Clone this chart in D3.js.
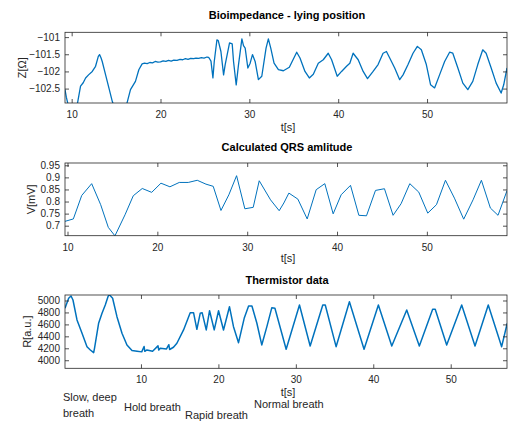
<!DOCTYPE html>
<html>
<head>
<meta charset="utf-8">
<script src="https://cdn.jsdelivr.net/npm/d3@7"></script>
<style>
  body { margin: 0; background: #fff; }
  svg { display: block; font-family: "Liberation Sans", Arial, sans-serif; }
</style>
</head>
<body>
<div id="chart"></div>
<script>
// bioimpedance, lying position
var bioT = [9.25, 9.4, 9.58, 10.1, 10.64, 11.0, 11.3, 11.57, 11.9, 12.32, 12.69, 13.0, 13.14, 13.3, 13.44, 13.82, 14.19, 14.57, 15.0, 15.8,
    16.25, 16.62, 17.18, 17.56, 17.93, 18.2, 18.5, 18.8, 19.1, 19.4, 19.7, 20.0, 20.3, 20.6, 20.9, 21.2, 21.5, 21.86, 22.2, 22.5,
    22.8, 23.1, 23.4, 23.73, 24.0, 24.3, 24.6, 24.9, 25.23, 25.41, 25.52, 25.68, 25.9, 26.05, 26.35, 26.5, 26.8, 27.1, 27.28, 27.77,
    28.07, 28.22, 28.52, 28.78, 29.16, 29.34, 29.53, 29.83, 30.09, 30.35, 30.65, 31.02, 31.4, 31.88, 32.14, 32.41, 32.78, 33.27, 33.83, 34.5,
    35.33, 35.7, 36.26, 36.75, 37.2, 37.76, 38.32, 38.88, 39.26, 39.89, 40.38, 40.94, 41.31, 41.68, 42.25, 42.81, 43.3, 43.93, 44.49, 45.05,
    45.43, 45.8, 46.36, 46.92, 47.3, 47.86, 48.42, 48.91, 49.36, 49.92, 50.4, 50.85, 51.41, 51.98, 52.54, 52.9, 53.47, 54.03, 54.59, 55.15,
    55.71, 56.27, 56.65, 57.22, 57.78, 58.34, 58.63, 59.0];
var bioZ = [-102.53, -102.75, -102.95, -103.1, -102.95, -102.43, -102.33, -102.19, -102.1, -102.0, -101.85, -101.56, -101.51, -101.6, -101.71, -102.1, -102.48, -102.87, -103.2, -103.3,
    -102.9, -102.53, -102.29, -101.95, -101.78, -101.76, -101.77, -101.74, -101.75, -101.71, -101.73, -101.72, -101.69, -101.71, -101.68, -101.7, -101.67, -101.68, -101.65, -101.66,
    -101.63, -101.65, -101.62, -101.63, -101.61, -101.62, -101.6, -101.61, -101.58, -101.59, -101.63, -101.7, -102.19, -101.71, -101.08, -101.1, -101.42, -102.1, -101.8, -101.17,
    -101.2, -101.71, -102.39, -101.8, -101.05, -101.25, -101.32, -101.9, -101.76, -101.51, -101.71, -102.24, -102.14, -101.32, -101.05, -101.32, -101.76, -101.95, -101.98, -101.88,
    -101.44, -101.61, -102.0, -102.19, -102.08, -101.76, -101.66, -101.47, -101.66, -102.14, -102.0, -101.85, -101.76, -101.47, -101.66, -102.0, -102.21, -102.0, -101.8, -101.47,
    -101.42, -101.61, -101.9, -102.24, -102.1, -101.8, -101.47, -101.27, -101.37, -101.8, -102.39, -102.48, -102.1, -101.71, -101.44, -101.47, -101.9, -102.34, -102.53, -102.29,
    -101.8, -101.37, -101.47, -101.9, -102.34, -102.63, -102.39, -101.9];
var bioTicksY = [-102.5, -102, -101.5, -101];

// calculated QRS amplitude
var qrsT = [9.72, 10.65, 11.58, 12.69, 13.69, 14.54, 15.28, 16.4, 17.32, 18.32, 19.37, 20.4, 21.4, 22.44, 23.44, 24.44, 25.41, 26.22, 27.08, 27.96,
    28.82, 29.74, 30.67, 31.34, 32.6, 33.56, 34.08, 34.64, 35.64, 36.68, 37.68, 38.64, 39.57, 40.46, 41.5, 42.43, 43.28, 44.28, 45.28, 46.24,
    47.13, 48.1, 49.1, 50.1, 51.07, 52.07, 53.07, 54.1, 55.14, 56.07, 57.07, 57.92, 58.92];
var qrsV = [0.718, 0.728, 0.825, 0.874, 0.787, 0.693, 0.658, 0.745, 0.824, 0.854, 0.838, 0.876, 0.861, 0.879, 0.879, 0.888, 0.872, 0.863, 0.763, 0.828,
    0.907, 0.77, 0.776, 0.886, 0.807, 0.762, 0.794, 0.835, 0.81, 0.728, 0.849, 0.874, 0.749, 0.828, 0.867, 0.743, 0.741, 0.846, 0.853, 0.743,
    0.791, 0.874, 0.839, 0.752, 0.787, 0.888, 0.814, 0.727, 0.807, 0.888, 0.773, 0.743, 0.845];
var qrsTicksY = [0.7, 0.75, 0.8, 0.85, 0.9, 0.95];

// thermistor
var thermT = [0.19, 0.66, 0.97, 1.22, 1.74, 2.39, 3.03, 3.46, 3.89, 4.0, 4.53, 4.97, 5.39, 5.74, 5.9, 6.34, 6.9, 7.55, 8.19, 8.84,
    9.5, 10.1, 10.4, 10.5, 10.77, 11.5, 12.2, 12.3, 12.49, 13.3, 13.6, 13.7, 14.2, 14.64, 15.5, 16.36, 16.79, 17.22, 17.65, 17.9,
    18.43, 18.86, 19.46, 20.02, 20.66, 21.43, 21.95, 22.6, 23.33, 23.9, 24.33, 24.97, 25.6, 26.26, 26.9, 27.3, 28.75, 30.47, 31.85, 33.48,
    33.8, 35.2, 36.92, 38.81, 40.66, 42.39, 44.32, 45.95, 47.67, 48.0, 49.48, 51.42, 53.14, 54.85, 56.58, 57.3];
var thermR = [4870, 5037, 5075, 5008, 4674, 4451, 4227, 4172, 4127, 4200, 4619, 4786, 4925, 5063, 5100, 5037, 4729, 4451, 4256, 4161,
    4150, 4140, 4230, 4150, 4172, 4150, 4240, 4170, 4200, 4190, 4260, 4180, 4217, 4284, 4507, 4796, 4796, 4518, 4786, 4796,
    4507, 4829, 4507, 4829, 4507, 4896, 4562, 4294, 4702, 4908, 4908, 4619, 4256, 4562, 4880, 4870, 4184, 4925, 4239, 4925,
    4925, 4227, 4980, 4184, 4925, 4239, 4841, 4239, 4853, 4853, 4256, 4925, 4239, 4925, 4227, 4619];
var thermTicksY = [4000, 4200, 4400, 4600, 4800, 5000];

var ticksX = [10, 20, 30, 40, 50];

var annotations = [
    { text: 'Slow, deep', x: 63, y: 397 },
    { text: 'breath', x: 63, y: 413 },
    { text: 'Hold breath', x: 124, y: 407 },
    { text: 'Rapid breath', x: 185, y: 415 },
    { text: 'Normal breath', x: 254, y: 404 }
];

var totalWidth = 508;
var totalHeight = 422;
var left = 65, right = 507;
var lineColor = '#0072BD';
var axisColor = '#262626';

var svg = d3.select('#chart').append('svg')
    .attr('width', totalWidth)
    .attr('height', totalHeight);

var panels = [
    { title: 'Bioimpedance - lying position', ylabel: 'Z[\u03A9]', top: 32.3, bottom: 103, xd: [9.25, 59.0], yd: [-102.92, -100.86],
      t: bioT, v: bioZ, yticks: bioTicksY, fmt: d3.format('~g'), titleY: 19, tlabelY: 131, ylabelX: 22, width: 1.3 },
    { title: 'Calculated QRS amlitude', ylabel: 'V[mV]', top: 163, bottom: 235.7, xd: [9.72, 58.92], yd: [0.6586, 0.9595],
      t: qrsT, v: qrsV, yticks: qrsTicksY, fmt: d3.format('~g'), titleY: 151, tlabelY: 262, ylabelX: 31, width: 1 },
    { title: 'Thermistor data', ylabel: 'R[a.u.]', top: 295, bottom: 368.3, xd: [0.19, 57.27], yd: [3865, 5092],
      t: thermT, v: thermR, yticks: thermTicksY, fmt: d3.format('d'), titleY: 284, tlabelY: 396, ylabelX: 27, width: 1.5 }
];

panels.forEach(function(p, i) {
    var x = d3.scaleLinear().domain(p.xd).range([left, right]);
    var y = d3.scaleLinear().domain(p.yd).range([p.bottom, p.top]);
    var g = svg.append('g');

    var clipId = 'clip' + i;
    svg.append('clipPath').attr('id', clipId)
        .append('rect')
        .attr('x', left).attr('y', p.top)
        .attr('width', right - left).attr('height', p.bottom - p.top);

    var data = p.t.map(function(t, k) { return [t, p.v[k]]; });
    g.append('path')
        .datum(data)
        .attr('clip-path', 'url(#' + clipId + ')')
        .attr('fill', 'none')
        .attr('stroke', lineColor)
        .attr('stroke-width', p.width)
        .attr('stroke-linejoin', 'round')
        .attr('d', d3.line().x(d => x(d[0])).y(d => y(d[1])));

    // axes, ticks pointing inwards
    var xb = g.append('g').attr('transform', `translate(0, ${p.bottom})`)
        .call(d3.axisBottom(x).tickValues(ticksX).tickSizeInner(-4).tickSizeOuter(0).tickPadding(8));
    var xt = g.append('g').attr('transform', `translate(0, ${p.top})`)
        .call(d3.axisTop(x).tickValues(ticksX).tickSizeInner(-4).tickSizeOuter(0).tickFormat(''));
    var yl = g.append('g').attr('transform', `translate(${left}, 0)`)
        .call(d3.axisLeft(y).tickValues(p.yticks).tickSizeInner(-4).tickSizeOuter(0).tickPadding(5).tickFormat(p.fmt));
    var yr = g.append('g').attr('transform', `translate(${right}, 0)`)
        .call(d3.axisRight(y).tickValues(p.yticks).tickSizeInner(-4).tickSizeOuter(0).tickFormat(''));

    [xb, xt, yl, yr].forEach(function(a) {
        a.selectAll('.domain').remove();
        a.selectAll('line').attr('stroke', axisColor).attr('stroke-width', 0.8);
        a.selectAll('text').attr('fill', axisColor).attr('font-size', 10).attr('font-family', '"Liberation Sans", Arial, sans-serif');
    });

    g.append('rect')
        .attr('x', left).attr('y', p.top)
        .attr('width', right - left).attr('height', p.bottom - p.top)
        .attr('fill', 'none')
        .attr('stroke', axisColor)
        .attr('stroke-width', 0.8);

    g.append('text')
        .attr('x', (left + right) / 2 + 1).attr('y', p.titleY)
        .attr('text-anchor', 'middle')
        .attr('font-size', 11).attr('font-weight', 'bold')
        .attr('fill', '#000')
        .text(p.title);

    g.append('text')
        .attr('x', 288).attr('y', p.tlabelY)
        .attr('text-anchor', 'middle')
        .attr('font-size', 11).attr('fill', axisColor)
        .text('t[s]');

    g.append('text')
        .attr('transform', `translate(${p.ylabelX}, ${(p.top + p.bottom) / 2}) rotate(-90)`)
        .attr('text-anchor', 'middle')
        .attr('dominant-baseline', 'central')
        .attr('font-size', 11).attr('fill', axisColor)
        .text(p.ylabel);
});

svg.selectAll('text.note')
    .data(annotations)
    .enter()
    .append('text')
    .classed('note', true)
    .attr('x', d => d.x)
    .attr('y', d => d.y)
    .attr('dominant-baseline', 'central')
    .attr('font-size', 11)
    .attr('fill', axisColor)
    .text(d => d.text);
</script>
</body>
</html>
